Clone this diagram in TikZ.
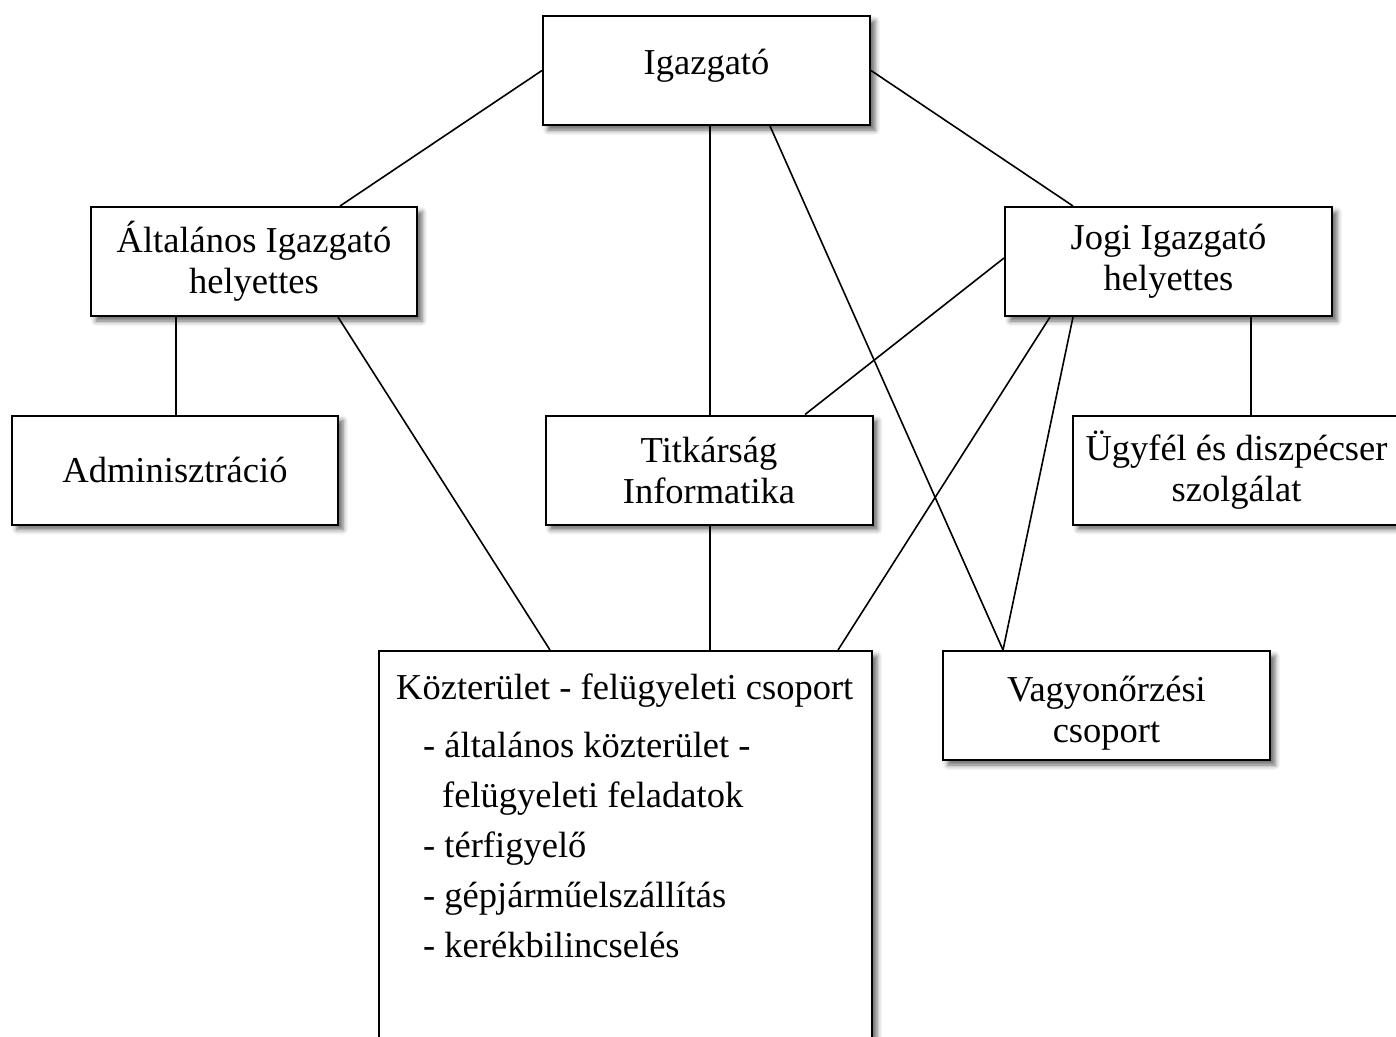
\documentclass[tikz,border=0pt]{standalone}
\usepackage{fontspec}
\setmainfont{Liberation Serif}
\usetikzlibrary{shadows.blur}

\begin{document}
\begin{tikzpicture}[x=1pt, y=-1pt,
    unit/.style={draw, line width=2pt, fill=white, minimum width=327pt, minimum height=109pt, align=center, inner sep=0pt,
      blur shadow={shadow xshift=5pt, shadow yshift=-5pt, shadow blur radius=5pt, shadow opacity=60},
      font=\fontsize{36.5}{41}\selectfont},
    link/.style={line width=1.6pt}]
  \useasboundingbox (0,0) rectangle (1396,1036);

  % boxes
  \node (igaz) [unit] at (706.5,70.5) {\raisebox{-3.5pt}[0pt][0pt]{Igazgató}};
  \node (alt) [unit, minimum width=326pt] at (254,261.5) {Általános Igazgató\\helyettes};
  \node (jogi) [unit] at (1168.5,261.5) {Jogi Igazgató\\helyettes};
  \node (admin) [unit, minimum width=326pt] at (175,470) {Adminisztráció};
  \node (titk) [unit] at (709,470) {Titkárság\\Informatika};
  \node (ugyf) [unit] at (1236.5,470) {Ügyfél és diszpécser\\szolgálat};
  \node (vagy) [unit] at (1106.5,705.5)
    {\raisebox{3.8pt}[0pt][0pt]{\begin{tabular}[t]{@{}c@{}}Vagyonőrzési\\csoport\end{tabular}}};
  \node (kozt) [unit, minimum width=493pt, minimum height=419pt] at (625.5,860.5) {};
  \node (kozttext) [anchor=north west, align=left, inner sep=0pt, font=\fontsize{36.5}{50}\selectfont]
    at ([xshift=18pt, yshift=-24pt]kozt.north west)
    {Közterület - felügyeleti csoport\\[8pt]
     \hspace*{27pt}- általános közterület -\\
     \hspace*{46pt}felügyeleti feladatok\\
     \hspace*{27pt}- térfigyelő\\
     \hspace*{27pt}- gépjárműelszállítás\\
     \hspace*{27pt}- kerékbilincselés};

  % connectors
  \draw[link] (igaz.west) -- ([xshift=86pt]alt.north);
  \draw[link] (igaz.east) -- ([xshift=-95.5pt]jogi.north);
  \draw[link] ([xshift=3.5pt]igaz.south) -- ([xshift=1pt]titk.north);
  \draw[link] ([xshift=63.5pt]igaz.south) -- ([xshift=-103.5pt]vagy.north);
  \draw[link] ([xshift=-78pt]alt.south) -- ([xshift=1pt]admin.north);
  \draw[link] ([xshift=84pt]alt.south) -- ([xshift=-75.5pt]kozt.north);
  \draw[link] ([yshift=3.5pt]jogi.west) -- ([xshift=96pt]titk.north);
  \draw[link] ([xshift=-118.5pt]jogi.south) -- ([xshift=212.5pt]kozt.north);
  \draw[link] ([xshift=-95.5pt]jogi.south) -- ([xshift=-103.5pt]vagy.north);
  \draw[link] ([xshift=82.5pt]jogi.south) -- ([xshift=14.5pt]ugyf.north);
  \draw[link] ([xshift=1pt]titk.south) -- ([xshift=84.5pt]kozt.north);
\end{tikzpicture}
\end{document}
